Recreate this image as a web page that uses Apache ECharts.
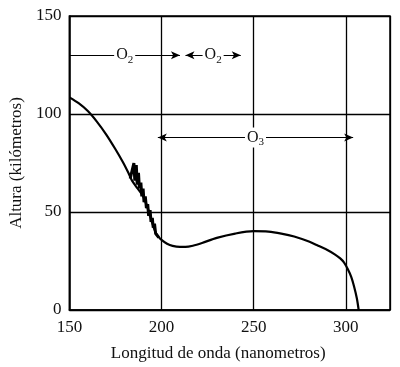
<!DOCTYPE html>
<html>
<head>
<meta charset="utf-8">
<script src="https://cdn.jsdelivr.net/npm/echarts@6/dist/echarts.min.js"></script>
<style>html,body{margin:0;padding:0;background:#fff}#c{width:400px;height:367px}</style>
</head>
<body>
<div id="c"></div>
<script>
const wavelength = [150,155,160,165,170,175,179,182,184,187,190,192.5,194.8,196.6,198.5,200,203,206,210,213,217,222,230,240,250,258,265,272,280,285,290,294,297,299,301,303,304.5,306,307];
const altitude   = [108.5,105.5,101.5,96,89.5,82,75.5,70,66,62,58,52,45,40,37.2,35.8,33.8,32.7,32.2,32.2,32.8,34.2,36.8,39,40.2,40,39,37.5,34.9,32.8,30.6,28.4,26.3,24.3,21,16.8,12,6,0];
const jagWavelength = [183,185,185.5,186.3,186.8,187.5,188,188.8,189.3,190,190.5,191.2,191.8,192.5,193,193.8,194.3,195,195.5,196.2,196.8,197.5,198.5];
const jagAltitude   = [67,75,66,74,64,70,62,65,58,62,55,58,52,54,48,51,45,47,42,44,39,40,37];
const xTicks = [150, 200, 250, 300];
const yTicks = [0, 50, 100, 150];
const bandLabels = ['O{s|2}', 'O{s|2}', 'O{s|3}'];
const bandStart = [150, 213, 198];
const bandEnd   = [210, 243, 304];
const bandAlt   = [130, 130, 88];
const bandStartArrow = [false, true, true];

const font = 'Liberation Serif';
const chart = echarts.init(document.getElementById('c'), null, {renderer: 'canvas'});
const markData = bandLabels.map((lab, i) => [
  {coord: [bandStart[i], bandAlt[i]], symbol: bandStartArrow[i] ? 'arrow' : 'none', label: {formatter: lab}},
  {coord: [bandEnd[i], bandAlt[i]], symbol: 'arrow'}
]);
chart.setOption({
  animation: false,
  backgroundColor: '#fff',
  grid: {left: 66.7, right: 10, top: 16, bottom: 57, show: true, borderColor: '#000', borderWidth: 1.5, backgroundColor: 'transparent'},
  xAxis: {
    type: 'value', min: 150, max: 324, interval: 50,
    name: 'Longitud de onda (nanometros)', nameLocation: 'middle', nameGap: 35,
    nameTextStyle: {fontFamily: font, fontSize: 17, color: '#111', padding: [0, 23, 0, 0]},
    axisLine: {show: true, lineStyle: {color: '#000', width: 1.5}},
    axisTick: {show: false},
    axisLabel: {fontFamily: font, fontSize: 17, color: '#111', margin: 9,
      formatter: v => xTicks.includes(v) ? String(v) : ''},
    splitLine: {show: true, lineStyle: {color: '#000', width: 1.3}}
  },
  yAxis: {
    type: 'value', min: 0, max: 150, interval: 50,
    name: 'Altura (kilómetros)', nameLocation: 'middle', nameGap: 41,
    nameTextStyle: {fontFamily: font, fontSize: 17, color: '#111'},
    axisLine: {show: true, lineStyle: {color: '#000', width: 1.5}},
    axisTick: {show: false},
    axisLabel: {fontFamily: font, fontSize: 17, color: '#111', margin: 8,
      formatter: v => yTicks.includes(v) ? String(v) : ''},
    splitLine: {show: true, lineStyle: {color: '#000', width: 1.3}}
  },
  series: [{
    type: 'line',
    data: wavelength.map((x, i) => [x, altitude[i]]),
    showSymbol: false,
    smooth: 0.3,
    lineStyle: {color: '#000', width: 2.2},
    markLine: {
      silent: true,
      symbolSize: [6, 9],
      lineStyle: {color: '#000', width: 1.2, type: 'solid'},
      label: {
        show: true, position: 'middle', distance: 0, verticalAlign: 'middle',
        fontFamily: font, fontSize: 16, color: '#111',
        backgroundColor: '#fff', padding: [0, 2, 0, 2],
        rich: {s: {fontFamily: font, fontSize: 11, color: '#111', padding: [9, 0, 0, 0]}}
      },
      data: markData
    }
  }, {
    type: 'line',
    data: jagWavelength.map((x, i) => [x, jagAltitude[i]]),
    showSymbol: false,
    smooth: false,
    lineStyle: {color: '#000', width: 3}
  }]
});
</script>
</body>
</html>
